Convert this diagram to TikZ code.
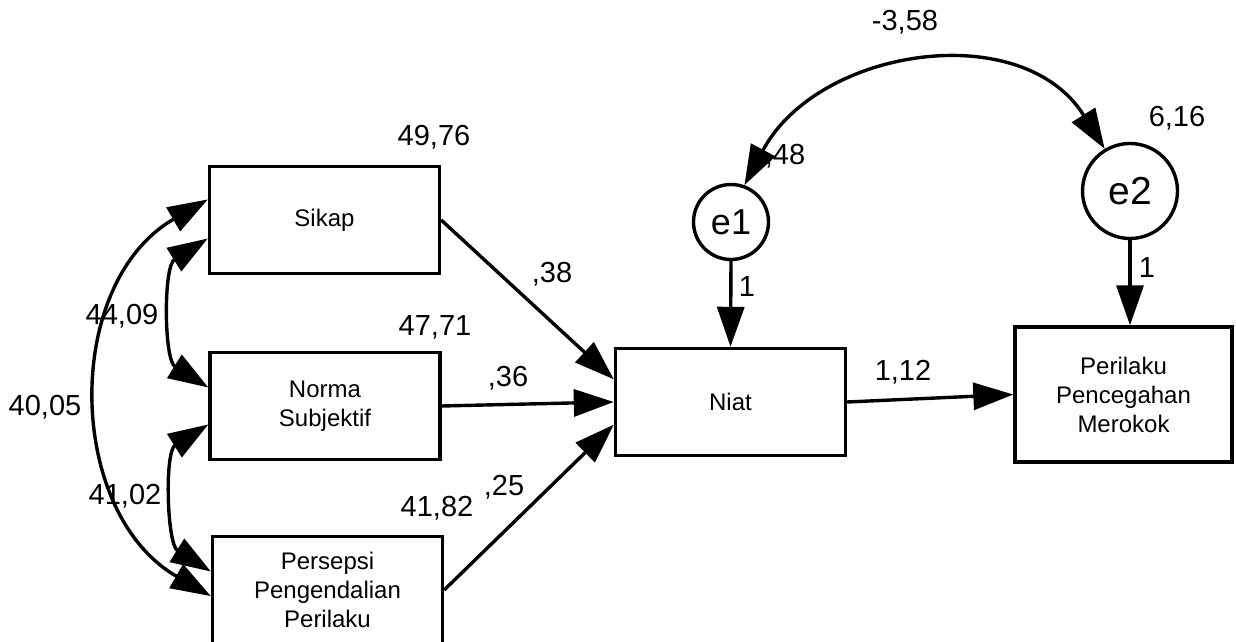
\documentclass[tikz,border=0pt]{standalone}
\usepackage{fontspec}
\setmainfont{Liberation Sans}
\usetikzlibrary{arrows.meta}

\begin{document}
\begin{tikzpicture}[x=0.5pt, y=0.5pt, line width=1.7pt, >={Triangle[length=20pt,width=13.5pt]},
            box/.style = {draw, rectangle, minimum width=115pt, minimum height=53.5pt, inner sep=0pt, align=center, font=\fontsize{12pt}{14.5pt}\selectfont},
            err/.style = {draw, circle, inner sep=0pt},
            num/.style = {inner sep=0pt, font=\fontsize{14.5pt}{16pt}\selectfont}]
            \useasboundingbox (0,0) rectangle (1236,642);
            % Nodes
            \node[box] (sikap) at (324.5,422) {Sikap};
            \node[box] (norma) at (325,236) {Norma\\Subjektif};
            \node[box] (persepsi) at (327.5,52) {Persepsi\\Pengendalian\\Perilaku};
            \node[box] (niat) at (730.5,240) {Niat};
            \node[box, minimum width=108.5pt, minimum height=67.5pt] (perilaku) at (1123.5,247.5) {Perilaku\\Pencegahan\\Merokok};
            \node[err, minimum size=37.5pt, font=\fontsize{18pt}{20pt}\selectfont] (e1) at (731,420) {e1};
            \node[err, minimum size=47.5pt, font=\fontsize{19.5pt}{21pt}\selectfont] (e2) at (1130,451) {e2};
            % Estimates
            \node[num] (v1) at (434,505) {49,76};
            \node[num] (v2) at (435,315) {47,71};
            \node[num] (v3) at (437,134) {41,82};
            \node[num] (ve1) at (785,486) {,48};
            \node[num] (ve2) at (1177,524) {6,16};
            \node[num] (c1) at (122,326) {44,09};
            \node[num] (c2) at (125,146) {41,02};
            \node[num] (c3) at (45,235) {40,05};
            \node[num] (c4) at (905,620) {-3,58};
            \node[num] (p1) at (552,368) {,38};
            \node[num] (p2) at (508,264) {,36};
            \node[num] (p3) at (504,155) {,25};
            \node[num] (p4) at (903,270) {1,12};
            \node[num] (w1) at (747,355) {1};
            \node[num] (w2) at (1147,374) {1};
            % Edges
            \draw[->] (sikap.east) -- (niat.169);
            \draw[->] (norma.east) -- (niat.west);
            \draw[->] (persepsi.east) -- (niat.191);
            \draw[->] (niat.east) -- (perilaku.west);
            \draw[->] (e1.south) -- (niat.north);
            \draw[->] (e2.south) -- (e2.south |- perilaku.north);
            % Covariances
            \draw[<->] (sikap.189) to[out=212, in=148, looseness=0.9] (norma.171);
            \draw[<->] (norma.189) to[out=212, in=148, looseness=0.9] (persepsi.171);
            \draw[<->] (sikap.170) to[out=210, in=150, looseness=1.08] (persepsi.183);
            \draw[<->] (e1.70) to[out=62, in=122, looseness=1.1] (e2.121);
\end{tikzpicture}
\end{document}
